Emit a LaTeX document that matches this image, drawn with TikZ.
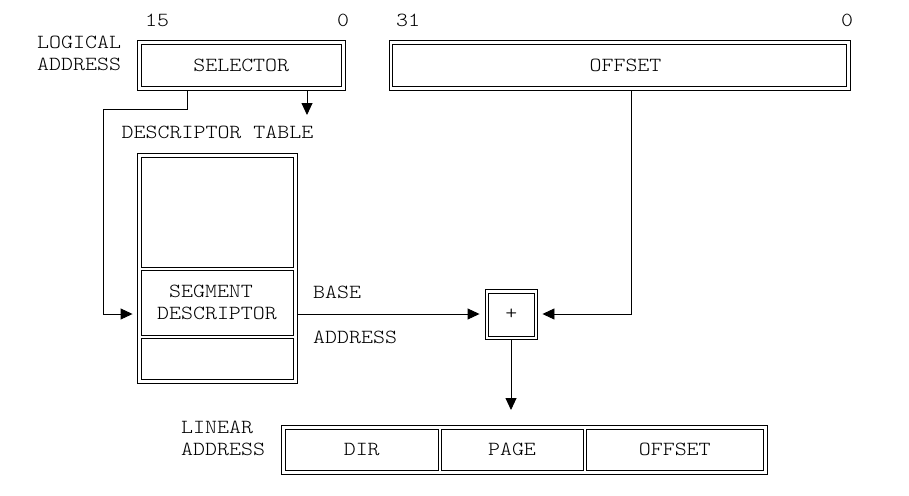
\documentclass[tikz,border=0pt]{standalone}
\usepackage{fontspec}
\newfontfamily\mono[FakeStretch=1.14]{Latin Modern Mono Light}
\usetikzlibrary{arrows.meta}
\begin{document}
\begin{tikzpicture}[x=1pt,y=-1pt,
  every node/.style={font=\mono\fontsize{20}{22}\selectfont, inner sep=0pt},
  frame/.style={draw, line width=0.9pt},
  cell/.style={draw, line width=0.9pt},
  arr/.style={line width=0.9pt, -{Triangle[length=12pt,width=11pt]}}]
\useasboundingbox (0,0) rectangle (909,495);

% logical address
\node[anchor=west, align=left] (lla) at (37,53) {LOGICAL\\ADDRESS};
\node (b15) at (157,20) {15};
\node (b0a) at (343,20) {0};
\node (b31) at (408,20) {31};
\node (b0b) at (847,20) {0};
\node[frame, minimum width=207.5pt, minimum height=50pt] (sel) at (241.25,65) {};
\node[cell, minimum width=199.5pt, minimum height=42pt] (seli) at (241.25,65) {SELECTOR};
\node[frame, minimum width=461pt, minimum height=50pt] (off) at (619.5,65) {};
\node[cell, minimum width=453.5pt, minimum height=42pt] (offi) at (619.25,65) {};
\node (offt) at (625.5,65) {OFFSET};

% descriptor table
\node (dtt) at (217.5,132) {DESCRIPTOR TABLE};
\node[frame, minimum width=160pt, minimum height=230pt] (tab) at (217,268) {};
\node[cell, minimum width=152pt, minimum height=110.5pt] (c1) at (217,212.25) {};
\node[cell, minimum width=152pt, minimum height=64.5pt, align=left] (seg) at (217,302.75) {\phantom{S}SEGMENT\\DESCRIPTOR};
\node[cell, minimum width=152pt, minimum height=41.5pt] (c3) at (217,358.75) {};

\node[anchor=west] (base) at (313,292) {BASE};
\node[anchor=west] (addr) at (313,337) {ADDRESS};

% adder
\node[frame, minimum width=52pt, minimum height=50pt] (plus) at (511,314) {};
\node[cell, minimum width=45.5pt, minimum height=43pt] (plusi) at (511.25,314.5) {+};

% linear address
\node[anchor=west, align=left] (lin) at (181,438) {LINEAR\\ADDRESS};
\node[frame, minimum width=486pt, minimum height=49pt] (la) at (524.5,449.5) {};
\node[cell, minimum width=152.5pt, minimum height=41pt] (dir) at (361.75,449.5) {DIR};
\node[cell, minimum width=142pt, minimum height=41pt] (page) at (512,449.5) {PAGE};
\node[cell, minimum width=177.5pt, minimum height=41pt] (loff) at (674.75,449.5) {OFFSET};

% connectors
\coordinate (k1) at (103,109);
\coordinate (dtarrow) at (307,115);
\coordinate (laarrow) at (511,410);
\draw[arr] ([xshift=-54.25pt]sel.south) |- (k1) |- ([xshift=-4pt]tab.west |- plus);
\draw[arr] ([xshift=65.75pt]sel.south) -- (dtarrow);
\draw[arr] (tab.east |- plus) -- ([xshift=-5pt]plus.west);
\draw[arr] ([xshift=11.5pt]off.south) |- ([xshift=5pt]plus.east);
\draw[arr] (plus.south) -- (laarrow);
\end{tikzpicture}
\end{document}
